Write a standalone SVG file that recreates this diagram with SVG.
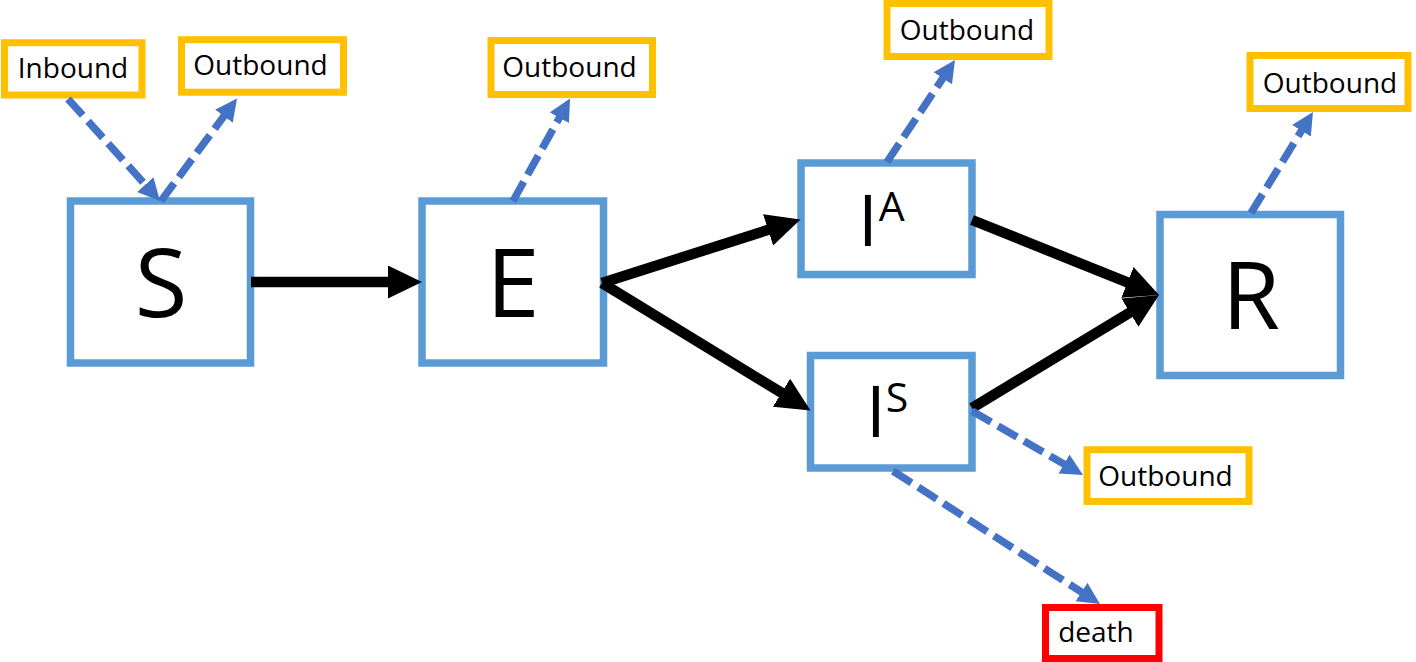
<svg xmlns="http://www.w3.org/2000/svg" width="1416" height="662" viewBox="0 0 1416 662">
<style>
.box{fill:#fff;stroke:#5B9BD5;stroke-width:7.5}
.ob{fill:#fff;stroke:#FFC000;stroke-width:7}
.rd{fill:#fff;stroke:#FF0000;stroke-width:7}
.big{font-family:"Open Sans","Liberation Sans",sans-serif;fill:#000}
.lbl{font-family:"Open Sans","Liberation Sans",sans-serif;font-size:28px;fill:#000;text-anchor:middle}
.blk{stroke:#000;stroke-width:10.5;fill:none;marker-end:url(#ah)}
.dsh{stroke:#4472C4;stroke-width:7.5;fill:none;stroke-dasharray:22 8;marker-end:url(#bh)}
</style>
<defs>
<marker id="ah" markerUnits="userSpaceOnUse" markerWidth="36" markerHeight="36" refX="2" refY="16.5" orient="auto"><path d="M0,0 L34,16.5 L0,33 Z" fill="#000"/></marker>
<marker id="bh" markerUnits="userSpaceOnUse" markerWidth="24" markerHeight="24" refX="2" refY="11" orient="auto"><path d="M0,0 L22,11 L0,22 Z" fill="#4472C4"/></marker>
</defs>
<rect width="1416" height="662" fill="#fff"/>
<g id="S"><rect class="box" x="70.5" y="201" width="180" height="162"/><text class="big" x="161" y="317" font-size="96" text-anchor="middle">S</text></g>
<g id="E"><rect class="box" x="422" y="201" width="181.5" height="162"/><text class="big" x="513" y="317" font-size="96" text-anchor="middle">E</text></g>
<g id="IA"><rect class="box" x="801" y="163" width="171" height="111.5"/><text class="big" x="858" y="246" font-size="71">I<tspan dx="1" dy="-25" font-size="41">A</tspan></text></g>
<g id="IS"><rect class="box" x="810.5" y="355.5" width="161.5" height="112.5"/><text class="big" x="866" y="437" font-size="71">I<tspan dx="0" dy="-25" font-size="41">S</tspan></text></g>
<g id="R"><rect class="box" x="1160" y="214.5" width="180.5" height="161"/><text class="big" x="1251" y="329" font-size="94" text-anchor="middle">R</text></g>
<g id="inbound"><rect class="ob" x="4.5" y="42.7" width="137.5" height="52.3"/><text class="lbl" x="73" y="78">Inbound</text></g>
<g id="outS"><rect class="ob" x="181.5" y="39.7" width="162" height="52.5"/><text class="lbl" x="260.5" y="75">Outbound</text></g>
<g id="outE"><rect class="ob" x="491" y="40.5" width="161.5" height="54"/><text class="lbl" x="569.5" y="77">Outbound</text></g>
<g id="outIA"><rect class="ob" x="887" y="3.5" width="162" height="53"/><text class="lbl" x="967" y="40">Outbound</text></g>
<g id="outR"><rect class="ob" x="1250" y="55.5" width="158" height="53"/><text class="lbl" x="1330" y="93">Outbound</text></g>
<g id="outIS"><rect class="ob" x="1087" y="449.7" width="162" height="51.7"/><text class="lbl" x="1165.5" y="486">Outbound</text></g>
<g id="death"><rect class="rd" x="1045.5" y="607.5" width="113.5" height="51"/><text class="lbl" x="1096" y="642">death</text></g>
<g id="connectors">
<line class="blk" x1="251" y1="282" x2="390" y2="282"/>
<line class="blk" x1="602" y1="283" x2="770" y2="229.25"/>
<line class="blk" x1="602" y1="283" x2="783.2" y2="393.8"/>
<line class="blk" x1="972" y1="220" x2="1129.3" y2="283.1"/>
<line class="blk" x1="972" y1="408" x2="1131.6" y2="311.6"/>
<line class="dsh" x1="68" y1="99" x2="146.6" y2="186.15"/>
<line class="dsh" x1="161" y1="201" x2="225.1" y2="114.6"/>
<line class="dsh" x1="513" y1="201" x2="560.3" y2="116"/>
<line class="dsh" x1="887" y1="162" x2="943.9" y2="76.6"/>
<line class="dsh" x1="1251" y1="213" x2="1302.5" y2="129"/>
<line class="dsh" x1="972" y1="411" x2="1065.7" y2="465"/>
<line class="dsh" x1="893" y1="471" x2="1083.2" y2="593.2"/>
</g>
</svg>
